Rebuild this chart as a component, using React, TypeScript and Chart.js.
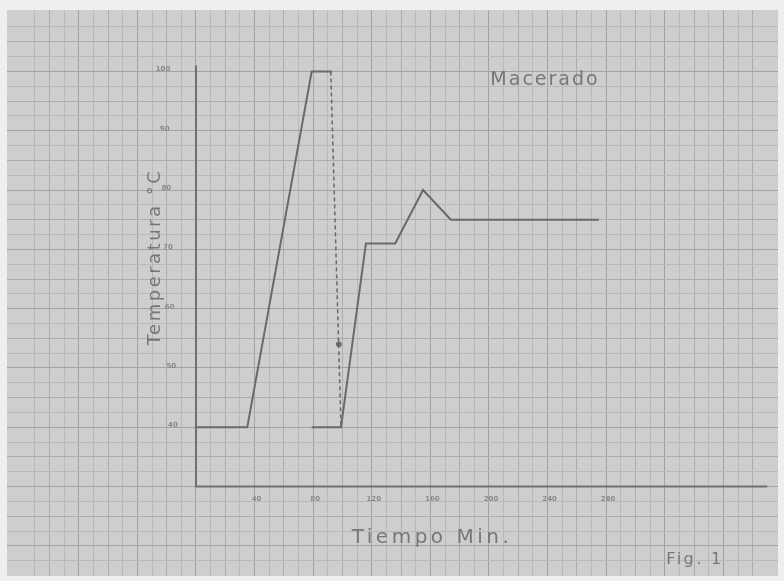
import React, { useEffect, useRef } from "react";
import { Chart, registerables } from "chart.js";

Chart.register(...registerables);

const W = 784;
const H = 581;

// ---- data (time in minutes, temperature in °C) ----
const mashTime = [0, 35, 79, 93];
const mashTemp = [40, 40, 100, 100];
const decoctionTime = [79, 99, 116, 136, 155, 174, 275];
const decoctionTemp = [40, 40, 71, 71, 80, 75, 75];
const transferTime = [92, 99];
const transferTemp = [100, 40];
const markerTime = [97.5];
const markerTemp = [54];
const axisTime = [0, 0, 390];
const axisTemp = [101, 30, 30];
const xTickLabels = [40, 80, 120, 160, 200, 240, 280];
const yTickLabels = [100, 90, 80, 70, 60, 50, 40];

// visible range of the graph paper
const X_MIN = -129;
const X_MAX = 397.3;
const Y_MIN = 14.93;
const Y_MAX = 110.36;

const INK = "#696969";
const TEXT = "#777777";

const pts = (xs: number[], ys: number[]) => xs.map((x, i) => ({ x, y: ys[i] }));

const paperPlugin = {
  id: "paper",
  beforeDraw(chart: any) {
    const { ctx, chartArea } = chart;
    ctx.save();
    ctx.fillStyle = "#efefef";
    ctx.fillRect(0, 0, chart.width, chart.height);
    ctx.fillStyle = "#cecece";
    ctx.fillRect(chartArea.left, chartArea.top, chartArea.right - chartArea.left, chartArea.bottom - chartArea.top);
    ctx.restore();
  },
};

const textPlugin = {
  id: "texts",
  afterDatasetsDraw(chart: any) {
    const { ctx } = chart;
    const xs = chart.scales.x;
    const ys = chart.scales.y;
    ctx.save();
    ctx.fillStyle = "#8a8a8a";
    ctx.textAlign = "center";
    ctx.textBaseline = "middle";
    ctx.font = 'bold 7px "DejaVu Sans"';
    const x0 = xs.getPixelForValue(0);
    yTickLabels.forEach((v) => {
      const px = x0 - 33 + ((100 - v) / 60) * 10;
      ctx.fillText(String(v), px, ys.getPixelForValue(v) - 2);
    });
    const y0 = ys.getPixelForValue(30);
    xTickLabels.forEach((v) => {
      ctx.fillText(String(v), xs.getPixelForValue(v) + 2, y0 + 13);
    });

    ctx.fillStyle = TEXT;
    (ctx as any).letterSpacing = "2px";
    ctx.font = '19px "DejaVu Sans"';
    ctx.fillText("Macerado", 545, 80);

    (ctx as any).letterSpacing = "3.5px";
    ctx.font = '20px "DejaVu Sans"';
    ctx.fillText("Tiempo Min.", 432, 538);

    (ctx as any).letterSpacing = "2.4px";
    ctx.font = '16px "DejaVu Sans"';
    ctx.fillText("Fig. 1", 695, 560);

    ctx.translate(155, 257);
    ctx.rotate(-Math.PI / 2);
    (ctx as any).letterSpacing = "2.5px";
    ctx.font = '18px "DejaVu Sans"';
    ctx.fillText("Temperatura °C", 0, 0);
    ctx.restore();
  },
};

function gridColor(value: number, step: number) {
  if (Math.abs(value / (step * 4) - Math.round(value / (step * 4))) < 1e-6) return "#a2a2a2";
  if (Math.abs(value / (step * 2) - Math.round(value / (step * 2))) < 1e-6) return "#adadad";
  if (Math.abs(value / step - Math.round(value / step)) < 1e-6) return "#b9b9b9";
  return "rgba(0,0,0,0)";
}

export default function App() {
  const ref = useRef<HTMLCanvasElement | null>(null);
  useEffect(() => {
    if (!ref.current) return;
    const chart = new Chart(ref.current, {
      type: "line",
      data: {
        datasets: [
          { data: pts(axisTime, axisTemp), borderColor: "#707070", borderWidth: 2, pointRadius: 0 },
          { data: pts(mashTime, mashTemp), borderColor: INK, borderWidth: 2, pointRadius: 0 },
          { data: pts(decoctionTime, decoctionTemp), borderColor: INK, borderWidth: 2, pointRadius: 0 },
          { data: pts(transferTime, transferTemp), borderColor: INK, borderWidth: 1.5, borderDash: [4, 3], pointRadius: 0 },
          { data: pts(markerTime, markerTemp), borderColor: INK, backgroundColor: INK, showLine: false, pointRadius: 2.5 },
        ],
      },
      options: {
        responsive: false,
        animation: false,
        devicePixelRatio: 1,
        events: [],
        layout: { padding: { left: 7, top: 10, right: 6, bottom: 0 } },
        plugins: { legend: { display: false }, tooltip: { enabled: false } },
        elements: { line: { tension: 0 } },
        scales: {
          x: {
            type: "linear",
            min: X_MIN,
            max: X_MAX,
            border: { display: false },
            ticks: { display: false, stepSize: 10 },
            grid: { drawTicks: false, lineWidth: 1, color: (c: any) => gridColor(c.tick.value, 10) },
          },
          y: {
            type: "linear",
            min: Y_MIN,
            max: Y_MAX,
            border: { display: false },
            ticks: { display: false, stepSize: 2.5 },
            grid: { drawTicks: false, lineWidth: 1, color: (c: any) => gridColor(c.tick.value, 2.5) },
          },
        },
      },
      plugins: [paperPlugin, textPlugin],
    } as any);
    return () => chart.destroy();
  }, []);
  return (
    <div style={{ position: "fixed", left: 0, top: 0, width: W, height: H }}>
      <canvas ref={ref} width={W} height={H} style={{ display: "block", width: W, height: H }} />
    </div>
  );
}
